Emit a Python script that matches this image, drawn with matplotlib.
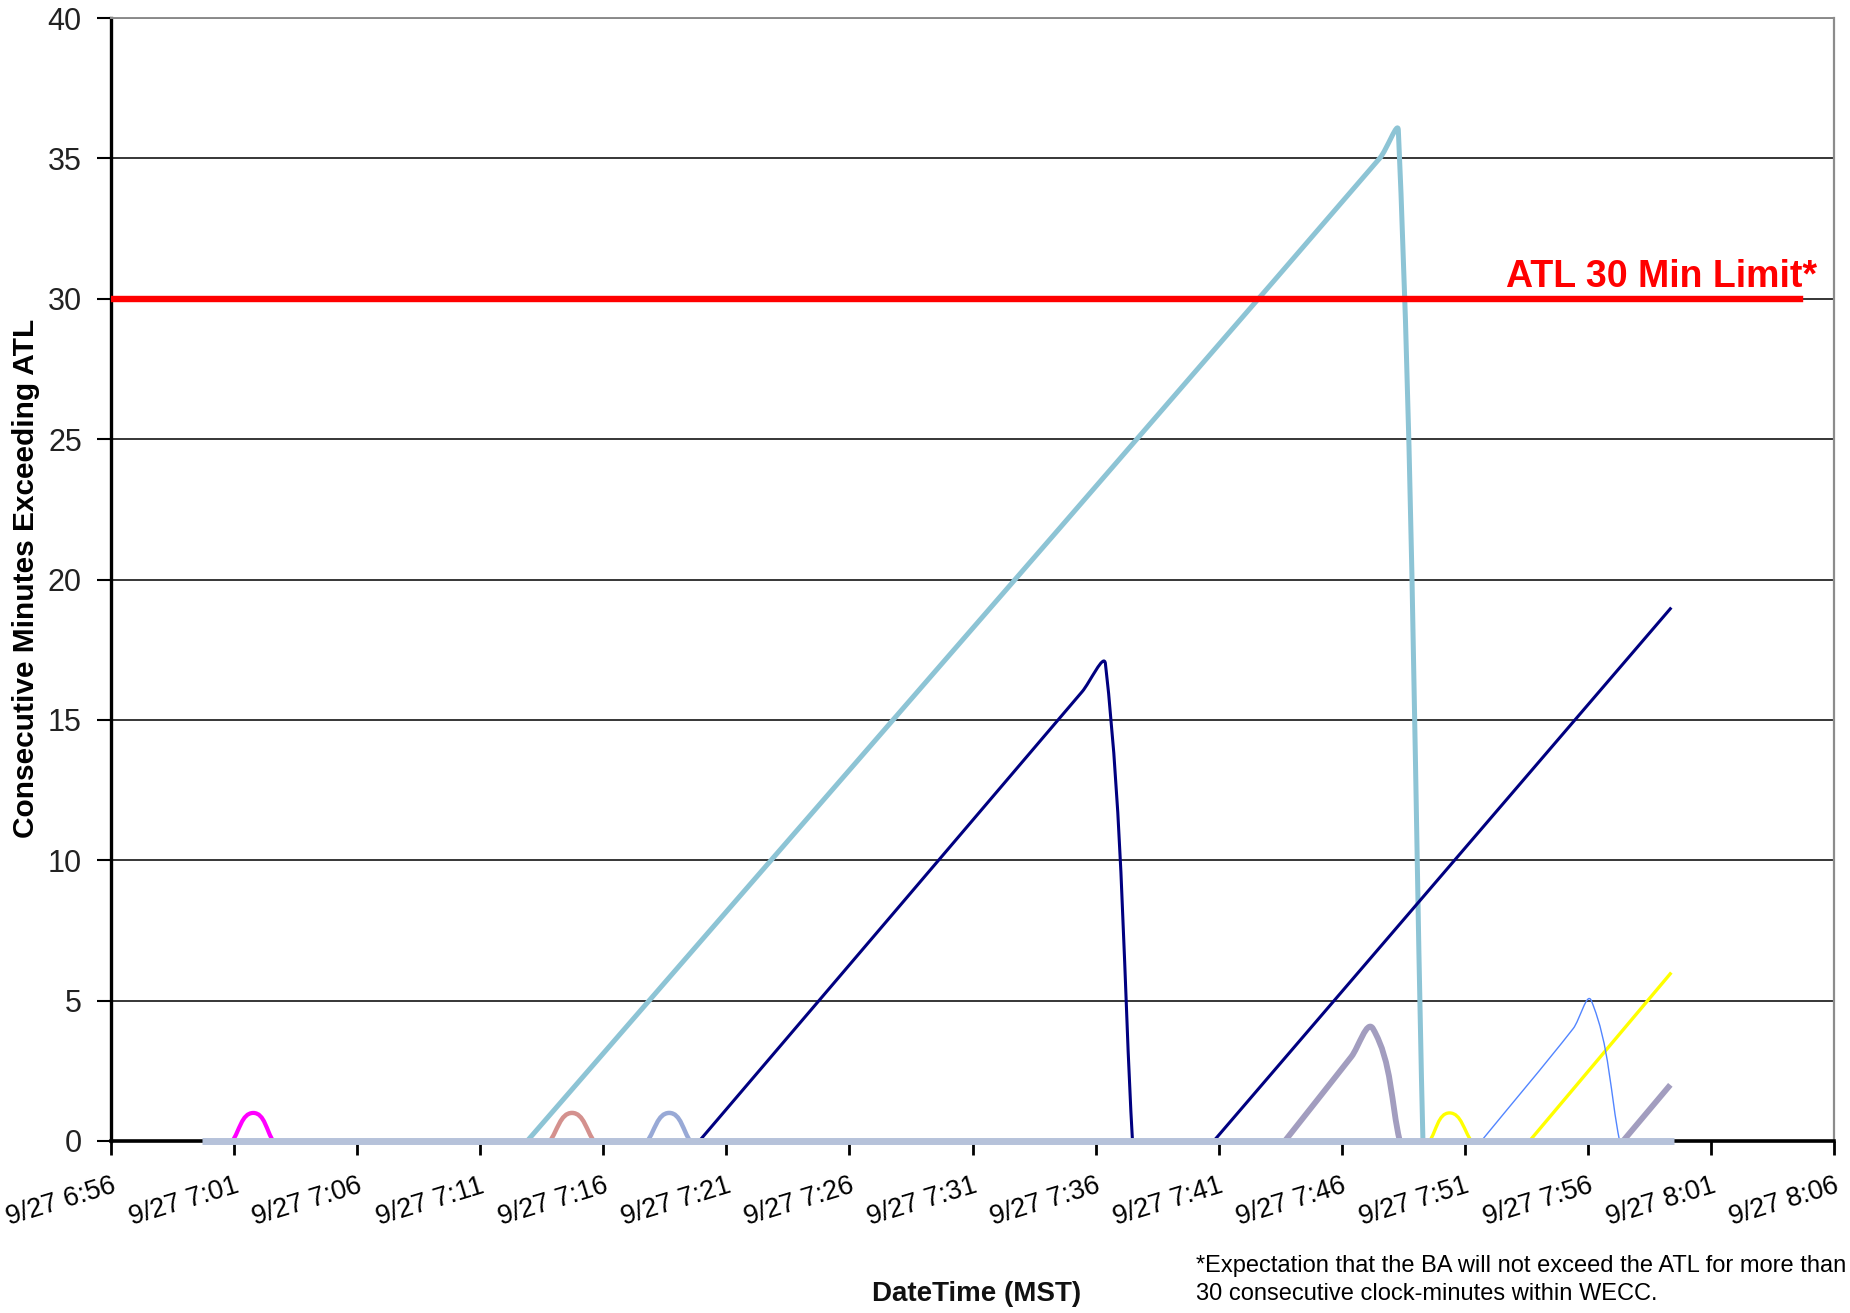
import matplotlib
matplotlib.use("Agg")
import numpy as np
import matplotlib.pyplot as plt
import matplotlib.transforms as mtransforms
from matplotlib.path import Path
from matplotlib.patches import PathPatch

plt.rcParams['font.family'] = ['Liberation Sans', 'DejaVu Sans']

# x values: minutes after 9/27 6:56 (MST)
tick_minutes = [0, 5, 10, 15, 20, 25, 30, 35, 40, 45, 50, 55, 60, 65, 70]
tick_labels = ['9/27 6:56', '9/27 7:01', '9/27 7:06', '9/27 7:11', '9/27 7:16',
               '9/27 7:21', '9/27 7:26', '9/27 7:31', '9/27 7:36', '9/27 7:41',
               '9/27 7:46', '9/27 7:51', '9/27 7:56', '9/27 8:01', '9/27 8:06']
y_ticks = [0, 5, 10, 15, 20, 25, 30, 35, 40]

atl_limit = 30

baseline_t = [3.7, 63.5]
baseline_v = [0, 0]

magenta_t = [4.93, 5.78, 6.59]
magenta_v = [0, 1, 0]

cyan_t = [16.91, 51.54, 52.3, 53.3]
cyan_v = [0, 35, 36, 0]

rose_t = [17.83, 18.73, 19.62]
rose_v = [0, 1, 0]

lavblue_t = [21.79, 22.68, 23.53]
lavblue_v = [0, 1, 0]

navy1_t = [23.9, 39.45, 40.4, 41.5]
navy1_v = [0, 16, 17, 0]

navy2_t = [44.8, 63.39]
navy2_v = [0, 19]

purple1_t = [47.69, 50.39, 51.27, 52.36]
purple1_v = [0, 3, 4, 0]

yellow1_t = [53.57, 54.38, 55.27]
yellow1_v = [0, 1, 0]

blue_t = [55.67, 59.4, 60.14, 61.29]
blue_v = [0, 4, 5, 0]

yellow2_t = [57.63, 63.39]
yellow2_v = [0, 6]

purple2_t = [61.43, 63.35]
purple2_v = [0, 2]

fig = plt.figure(figsize=(18.5, 13.13), dpi=100)
ax = fig.add_axes([111 / 1850, 1 - 1141 / 1313, 1723 / 1850, 1123 / 1313])

# pixel scale (approx) used only to shape the smoothed-line style
SX, SY = 24.6, 28.07


def smoothed_path(t, v):
    """Smoothed line through the data points (like a spreadsheet 'smoothed line')."""
    P = np.column_stack([np.asarray(t, float) * SX, np.asarray(v, float) * SY])
    n = len(P)
    if n == 2:
        verts = P
        codes = [Path.MOVETO, Path.LINETO]
    else:
        D = np.zeros_like(P)
        for i in range(n):
            if i == 0:
                d = P[1] - P[0]
            elif i == n - 1:
                d = P[-1] - P[-2]
            else:
                d = P[i + 1] - P[i - 1]
            D[i] = d / np.hypot(*d)
        verts = [P[0]]
        codes = [Path.MOVETO]
        for i in range(n - 1):
            L = np.hypot(*(P[i + 1] - P[i]))
            verts += [P[i] + D[i] * L / 3, P[i + 1] - D[i + 1] * L / 3, P[i + 1]]
            codes += [Path.CURVE4] * 3
        verts = np.array(verts)
    verts = np.column_stack([verts[:, 0] / SX, verts[:, 1] / SY])
    return Path(verts, codes)


series = [
    (magenta_t, magenta_v, '#FF00FF', 3.0),
    (rose_t, rose_v, '#D4918E', 3.2),
    (lavblue_t, lavblue_v, '#98A9D6', 3.2),
    (cyan_t, cyan_v, '#8DC4D5', 3.6),
    (navy1_t, navy1_v, '#000080', 2.2),
    (navy2_t, navy2_v, '#000080', 2.2),
    (purple1_t, purple1_v, '#A29DBF', 4.2),
    (purple2_t, purple2_v, '#A29DBF', 4.2),
    (yellow1_t, yellow1_v, '#FFFF00', 2.4),
    (yellow2_t, yellow2_v, '#FFFF00', 2.4),
    (blue_t, blue_v, '#5285FF', 1.0),
]
for t, v, c, lw in series:
    ax.add_patch(PathPatch(smoothed_path(t, v), fill=False, edgecolor=c, lw=lw,
                           joinstyle='round', capstyle='butt', clip_on=False,
                           zorder=2.6))

ax.plot(baseline_t, baseline_v, color='#B6C2DA', lw=5.0, solid_capstyle='butt',
        clip_on=False, zorder=3)

ax.axhline(atl_limit, xmin=0, xmax=0.98, color='#FF0000', lw=4.6, zorder=4)
trans = mtransforms.blended_transform_factory(ax.transAxes, ax.transData)
ax.text(0.990, atl_limit + 0.42, 'ATL 30 Min Limit*', transform=trans, ha='right',
        va='baseline', color='#FF0000', fontsize=27, fontweight='bold', zorder=5)

ax.set_xlim(0, 70)
ax.set_ylim(0, 40)
ax.set_xticks(tick_minutes)
ax.set_xticklabels(tick_labels, rotation=17, ha='right', va='top',
                   rotation_mode='anchor', fontsize=19.5,
                   family=['Liberation Sans Narrow', 'Liberation Sans'])
ax.set_yticks(y_ticks)
ax.set_yticklabels([str(y) for y in y_ticks], fontsize=22,
                   family=['Liberation Sans Narrow', 'Liberation Sans'])

ax.tick_params(axis='x', direction='out', length=10, width=2, pad=13, colors='black')
ax.tick_params(axis='y', direction='out', length=10, width=1.5, pad=11, colors='black')
for lbl in ax.get_yticklabels():
    lbl.set_color('#222222')

ax.yaxis.grid(True, color='black', lw=1.1)
ax.set_axisbelow(True)

ax.spines['left'].set_color('black')
ax.spines['left'].set_linewidth(2.4)
ax.spines['bottom'].set_color('black')
ax.spines['bottom'].set_linewidth(2.6)
ax.spines['top'].set_color('#8C8C8C')
ax.spines['top'].set_linewidth(1.4)
ax.spines['right'].set_color('#8C8C8C')
ax.spines['right'].set_linewidth(1.6)

fig.text(26 / 1850, 1 - 578 / 1313, 'Consecutive Minutes Exceeding ATL', rotation=90,
         ha='center', va='center', fontsize=21.5, fontweight='bold')
fig.text(977 / 1850, 1 - 1294 / 1313, 'DateTime (MST)', ha='center', va='center',
         fontsize=20, fontweight='bold', color='#111111')
fig.text(1196 / 1850, 1 - 1266 / 1313,
         '*Expectation that the BA will not exceed the ATL for more than',
         ha='left', va='center', fontsize=17)
fig.text(1196 / 1850, 1 - 1294 / 1313,
         '30 consecutive clock-minutes within WECC.',
         ha='left', va='center', fontsize=17)

fig.savefig('out.png', dpi=100)
